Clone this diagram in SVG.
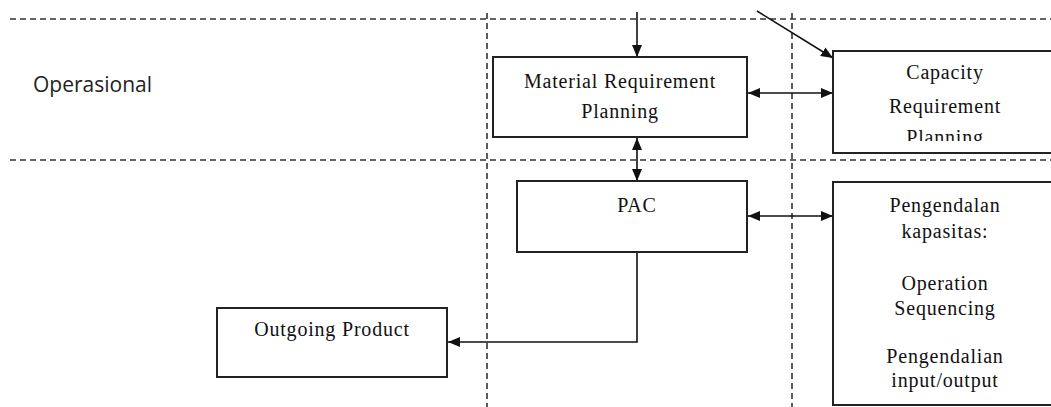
<svg xmlns="http://www.w3.org/2000/svg" width="1051" height="407" viewBox="0 0 1051 407">
  <style>
    .guide { stroke: #333; stroke-width: 1.6; stroke-dasharray: 6 4; fill: none; }
    .box { fill: #fff; stroke: #222; stroke-width: 2; }
    .edge { stroke: #111; stroke-width: 1.6; fill: none; }
    .lbl { font-family: "Liberation Serif", "Times New Roman", serif; font-size: 20px; letter-spacing: 0.8px; fill: #111; text-anchor: middle; }
    .lane { font-family: "Open Sans", "Liberation Sans", sans-serif; font-size: 21px; fill: #222; }
  </style>
  <defs>
    <marker id="ah" viewBox="0 0 12 10" refX="12" refY="5" markerWidth="12" markerHeight="10" markerUnits="userSpaceOnUse" orient="auto-start-reverse">
      <path d="M0,0 L12,5 L0,10 z" fill="#111"/>
    </marker>
    <clipPath id="crpClip"><rect x="833" y="51" width="218" height="90"/></clipPath>
  </defs>
  <rect width="1051" height="407" fill="#fff"/>

  <!-- level separators and columns -->
  <g id="guides">
    <line class="guide" x1="10" y1="19" x2="1051" y2="19"/>
    <line class="guide" x1="10" y1="160" x2="1051" y2="160"/>
    <line class="guide" x1="487" y1="13" x2="487" y2="407"/>
    <line class="guide" x1="792" y1="13" x2="792" y2="407"/>
  </g>

  <text class="lane" x="33" y="92">Operasional</text>

  <g id="connectors">
    <line class="edge" x1="637" y1="12" x2="637" y2="57" marker-end="url(#ah)"/>
    <line class="edge" x1="757" y1="11" x2="833" y2="58" marker-end="url(#ah)"/>
    <line class="edge" x1="748" y1="93" x2="833" y2="93" marker-start="url(#ah)" marker-end="url(#ah)"/>
    <line class="edge" x1="637" y1="138" x2="637" y2="181" marker-start="url(#ah)" marker-end="url(#ah)"/>
    <line class="edge" x1="748" y1="216" x2="833" y2="216" marker-start="url(#ah)" marker-end="url(#ah)"/>
    <polyline class="edge" points="637,252 637,342 448,342" marker-end="url(#ah)"/>
  </g>

  <g id="mrp">
    <rect class="box" x="493" y="57" width="254" height="80"/>
    <text class="lbl" x="620" y="88">Material Requirement</text>
    <text class="lbl" x="620" y="118">Planning</text>
  </g>

  <g id="crp">
    <rect class="box" x="833" y="51" width="230" height="102"/>
    <g clip-path="url(#crpClip)">
      <text class="lbl" x="945" y="79">Capacity</text>
      <text class="lbl" x="945" y="113">Requirement</text>
      <text class="lbl" x="945" y="144">Planning</text>
    </g>
  </g>

  <g id="pac">
    <rect class="box" x="517" y="181" width="230" height="71"/>
    <text class="lbl" x="637" y="212">PAC</text>
  </g>

  <g id="pengendalan">
    <rect class="box" x="833" y="182" width="230" height="223"/>
    <text class="lbl" x="945" y="212">Pengendalan</text>
    <text class="lbl" x="945" y="238">kapasitas:</text>
    <text class="lbl" x="945" y="290">Operation</text>
    <text class="lbl" x="945" y="315">Sequencing</text>
    <text class="lbl" x="945" y="363">Pengendalian</text>
    <text class="lbl" x="945" y="387">input/output</text>
  </g>

  <g id="outgoing">
    <rect class="box" x="217" y="308" width="230" height="69"/>
    <text class="lbl" x="332" y="336">Outgoing Product</text>
  </g>
</svg>
